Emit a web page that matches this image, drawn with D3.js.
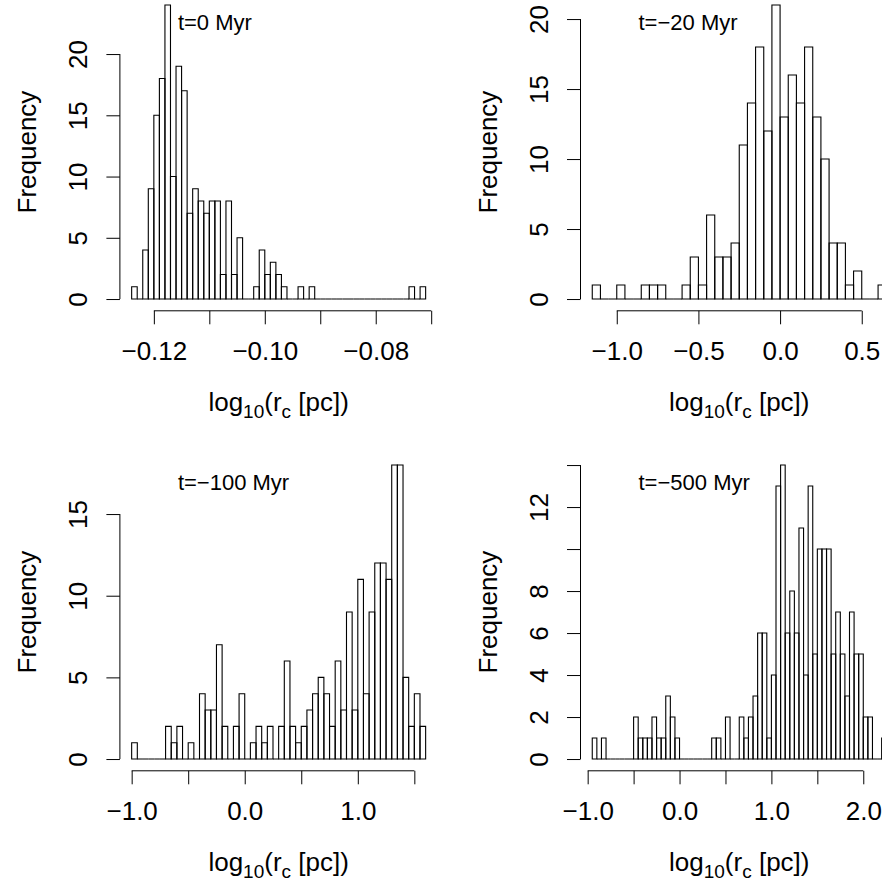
<!DOCTYPE html>
<html lang="en">
<head>
<meta charset="UTF-8">
<title>core radius histograms</title>
<script src="https://cdn.jsdelivr.net/npm/d3@7"></script>
<style>
  body { margin: 0; background: #fff; }
  svg { display: block; font-family: "Liberation Sans", Arial, Helvetica, sans-serif; }
</style>
</head>
<body>
<svg width="882" height="882"></svg>
<script>
// bin counts
const countsT0 = [1, 0, 4, 9, 15, 18, 24, 10, 19, 17, 7, 9, 8, 7, 8, 8, 2, 8, 2, 5,
  0, 0, 1, 4, 2, 3, 2, 1, 0, 0, 1, 0, 1, 0, 0, 0, 0, 0, 0, 0,
  0, 0, 0, 0, 0, 0, 0, 0, 0, 0, 1, 0, 1]
const countsT20 = [1, 0, 0, 1, 0, 0, 1, 1, 1, 0, 0, 1, 3, 1, 6, 3, 3, 4, 11, 14,
  18, 12, 21, 13, 16, 14, 18, 13, 10, 4, 4, 1, 2, 0, 0, 1]
const countsT100 = [1, 0, 0, 0, 0, 0, 2, 1, 2, 0, 1, 0, 4, 3, 3, 7, 2, 0, 2, 4,
  0, 1, 2, 1, 2, 0, 2, 6, 2, 1, 2, 3, 4, 5, 4, 2, 6, 3, 9, 3,
  11, 4, 9, 12, 12, 11, 18, 18, 5, 2, 4, 2]
const countsT500 = [1, 0, 1, 0, 0, 0, 0, 0, 0, 2, 1, 1, 1, 2, 1, 1, 3, 2, 1, 0,
  0, 0, 0, 0, 0, 0, 1, 1, 0, 2, 0, 0, 2, 1, 2, 3, 6, 6, 1, 4,
  13, 14, 6, 8, 6, 11, 4, 13, 5, 10, 10, 10, 5, 7, 5, 3, 7, 5, 5, 2,
  2, 0, 0, 1]

// first break and bin width of each histogram
const binStart = [-0.124, -1.15, -1.0, -0.95]
const binWidth = [0.001, 0.05, 0.05, 0.05]

const titles = ['t=0 Myr', 't=\u221220 Myr', 't=\u2212100 Myr', 't=\u2212500 Myr']

// axis ticks and the labels R kept
const xTicks = [
  [-0.12, -0.11, -0.10, -0.09, -0.08, -0.07],
  [-1.0, -0.5, 0.0, 0.5],
  [-1.0, -0.5, 0.0, 0.5, 1.0, 1.5],
  [-1.0, -0.5, 0.0, 0.5, 1.0, 1.5, 2.0]
]
const xTickLabels = [
  ['\u22120.12', '', '\u22120.10', '', '\u22120.08', ''],
  ['\u22121.0', '\u22120.5', '0.0', '0.5'],
  ['\u22121.0', '', '0.0', '', '1.0', ''],
  ['\u22121.0', '', '0.0', '', '1.0', '', '2.0']
]
const yTicks = [
  [0, 5, 10, 15, 20],
  [0, 5, 10, 15, 20],
  [0, 5, 10, 15],
  [0, 2, 4, 6, 8, 10, 12, 14]
]
const yTickLabels = [
  ['0', '5', '10', '15', '20'],
  ['0', '5', '10', '15', '20'],
  ['0', '5', '10', '15'],
  ['0', '2', '4', '6', '8', '', '12', '']
]

const allCounts = [countsT0, countsT20, countsT100, countsT500]

// layout (R-like 2x2 panels, plot region and margins)
const plotW = 317.5, plotH = 317.5
const lefts = [119.9, 580.5]
const bottoms = [310.8, 770.8]
const tick = 13.5

const svg = d3.select('svg')

allCounts.forEach((counts, p) => {
  const left = lefts[p % 2]
  const bottom = bottoms[Math.floor(p / 2)]
  const top = bottom - plotH

  const x0 = binStart[p]
  const x1 = binStart[p] + counts.length * binWidth[p]
  const ext = 0.04 * (x1 - x0)
  const yMax = d3.max(counts)

  const x = d3.scaleLinear().domain([x0 - ext, x1 + ext]).range([left, left + plotW])
  const y = d3.scaleLinear().domain([-0.04 * yMax, 1.04 * yMax]).range([bottom, top])

  const g = svg.append('g')

  // bars (zero bins give a flat line on the baseline, like hist())
  g.selectAll('path.bar')
    .data(counts)
    .enter()
    .append('path')
    .attr('class', 'bar')
    .attr('d', (d, i) => {
      const a = x(x0 + i * binWidth[p])
      const b = x(x0 + (i + 1) * binWidth[p])
      return 'M' + a + ',' + y(0) + 'V' + y(d) + 'H' + b + 'V' + y(0) + 'Z'
    })
    .attr('fill', 'none')
    .attr('stroke', '#000')
    .attr('stroke-width', 1.1)

  // x axis
  const xa = g.append('g')
    .attr('transform', 'translate(0,' + bottom + ')')
    .call(d3.axisBottom(x)
      .tickValues(xTicks[p])
      .tickSize(tick)
      .tickFormat((d, i) => xTickLabels[p][i]))
  xa.select('.domain').remove()
  xa.append('line')
    .attr('x1', x(xTicks[p][0]))
    .attr('x2', x(xTicks[p][xTicks[p].length - 1]))
    .attr('stroke', '#000')
  xa.selectAll('.tick line').attr('stroke', '#000')
  xa.selectAll('.tick text')
    .attr('y', 49)
    .attr('dy', null)
    .attr('fill', '#000')
    .attr('font-size', 26)
    .attr('font-family', null)

  // y axis
  const ya = g.append('g')
    .attr('transform', 'translate(' + left + ',0)')
    .call(d3.axisLeft(y)
      .tickValues(yTicks[p])
      .tickSize(tick)
      .tickFormat((d, i) => yTickLabels[p][i]))
  ya.select('.domain').remove()
  ya.append('line')
    .attr('y1', y(yTicks[p][0]))
    .attr('y2', y(yTicks[p][yTicks[p].length - 1]))
    .attr('stroke', '#000')
  ya.selectAll('.tick line').attr('stroke', '#000')
  ya.selectAll('.tick text')
    .attr('transform', 'rotate(-90)')
    .attr('x', 0)
    .attr('y', -33)
    .attr('dy', null)
    .attr('text-anchor', 'middle')
    .attr('fill', '#000')
    .attr('font-size', 26)
    .attr('font-family', null)

  // axis titles
  const xl = g.append('text')
    .attr('x', left + plotW / 2)
    .attr('y', bottom + 100)
    .attr('text-anchor', 'middle')
    .attr('font-size', 26)
  xl.append('tspan').text('log')
  xl.append('tspan').attr('dy', 7).attr('font-size', 19).text('10')
  xl.append('tspan').attr('dy', -7).text('(r')
  xl.append('tspan').attr('dy', 7).attr('font-size', 19).text('c')
  xl.append('tspan').attr('dy', -7).text(' [pc])')

  g.append('text')
    .attr('transform', 'translate(' + (left - 84) + ',' + (top + plotH / 2) + ') rotate(-90)')
    .attr('text-anchor', 'middle')
    .attr('font-size', 26)
    .text('Frequency')

  // panel label
  g.append('text')
    .attr('x', left + 58)
    .attr('y', top + 37)
    .attr('font-size', 22)
    .text(titles[p])
})
</script>
</body>
</html>
